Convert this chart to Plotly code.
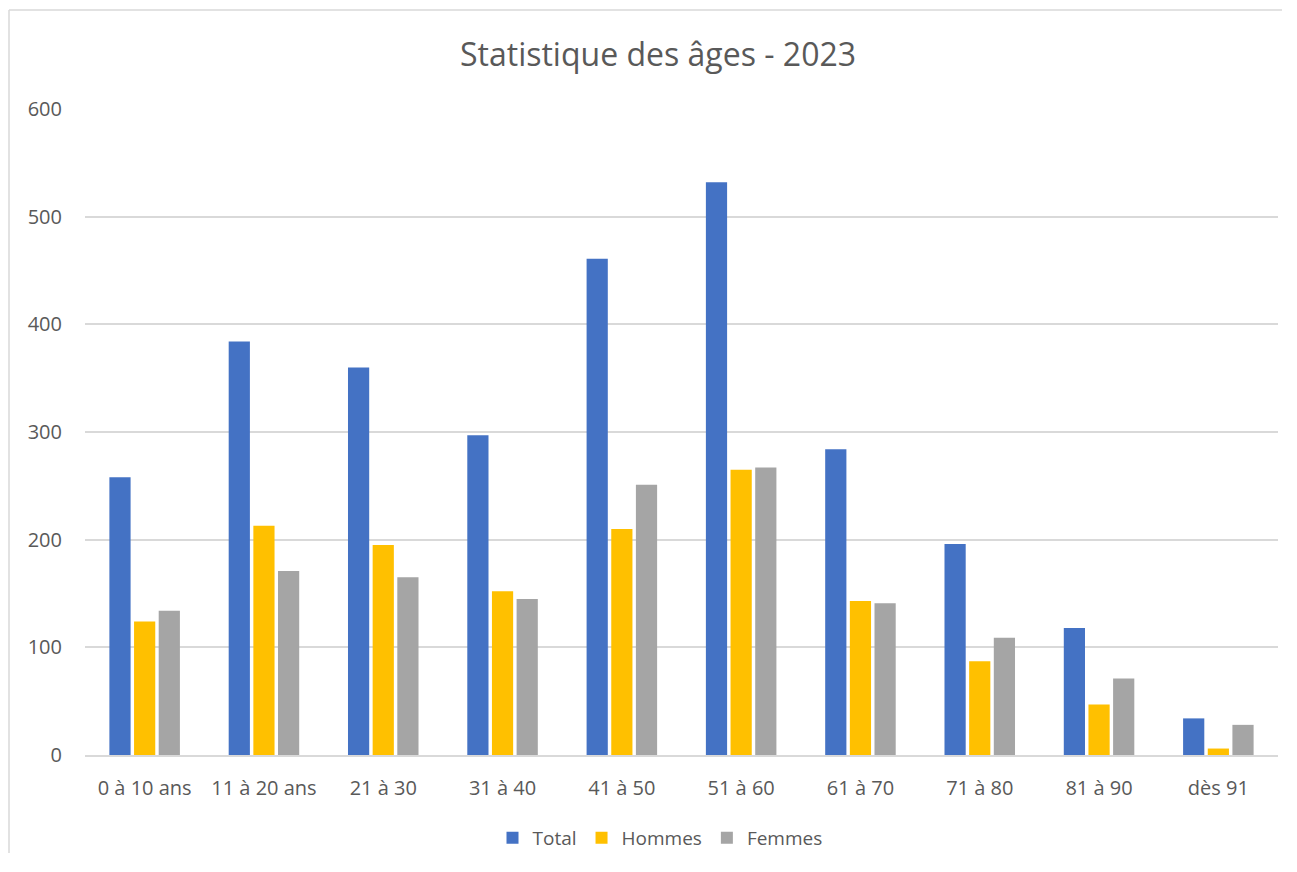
import plotly.graph_objects as go

categories = ["0 à 10 ans", "11 à 20 ans", "21 à 30", "31 à 40", "41 à 50",
              "51 à 60", "61 à 70", "71 à 80", "81 à 90", "dès 91"]
total = [258, 384, 360, 297, 461, 532, 284, 196, 118, 34]
hommes = [124, 213, 195, 152, 210, 265, 143, 87, 47, 6]
femmes = [134, 171, 165, 145, 251, 267, 141, 109, 71, 28]

series = [("Total", total, "#4472C4"),
          ("Hommes", hommes, "#FFC000"),
          ("Femmes", femmes, "#A5A5A5")]

fig = go.Figure()
for name, vals, col in series:
    fig.add_trace(go.Bar(x=categories, y=vals, name=name,
                         marker=dict(color=col, line=dict(width=0))))

OFF = 8  # page body margin
W, H = 1297 - 2 * OFF - 6, 872 - 2 * OFF - 10
# target page-pixel edges of the plot area
PL, PR, PT, PB = 85, 1278, 109, 755
L, R, T, B = PL - OFF, OFF + W - PR, PT - OFF, OFF + H - PB
pw, ph = PR - PL, PB - PT

def px(x):
    return (x - PL) / pw

def py(y):
    return (PB - y) / ph

border = dict(color="#D9D9D9", width=1.5)
right_edge = OFF + W - 1
bottom_edge = OFF + H - 1

fig.update_layout(
    width=W, height=H,
    margin=dict(l=L, r=R, t=T, b=B, autoexpand=False),
    paper_bgcolor="white", plot_bgcolor="white",
    font=dict(family="Open Sans", color="#595959", size=20),
    title=dict(text="Statistique des âges - 2023", x=(658 - OFF) / W, xanchor="center",
               y=1 - (55 - OFF) / H, yanchor="middle",
               font=dict(size=32, color="#595959", family="Open Sans")),
    barmode="group", bargap=0.38, bargroupgap=0.14,
    legend=dict(orientation="h", x=px(660), xanchor="center", y=py(838), yanchor="middle",
                font=dict(size=19, color="#595959"), itemwidth=30,
                traceorder="normal"),
    xaxis=dict(showgrid=False, showline=True, linecolor="#D9D9D9", linewidth=1.5,
               ticks="", tickfont=dict(size=20, color="#595959"),
               ticklabelstandoff=14, automargin=False),
    yaxis=dict(range=[0, 600], dtick=100, showgrid=True, gridcolor="#D9D9D9",
               gridwidth=1.5, zeroline=False, showline=False, ticks="",
               tickfont=dict(size=20, color="#595959"), ticklabelstandoff=22,
               automargin=False),
    shapes=[
        dict(type="line", xref="paper", yref="paper",
             x0=px(9), x1=px(9), y0=py(10), y1=py(bottom_edge), line=border, layer="below"),
        dict(type="line", xref="paper", yref="paper",
             x0=px(9), x1=px(right_edge), y0=py(10), y1=py(10), line=border, layer="below"),
    ],
)

fig.write_html("out.html")
